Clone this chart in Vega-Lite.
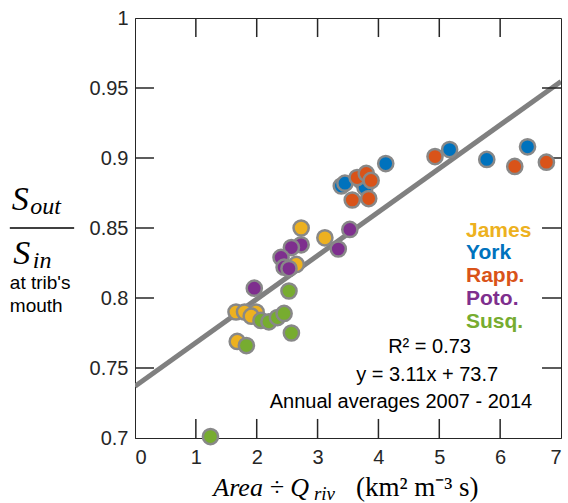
{
  "$schema": "https://vega.github.io/schema/vega-lite/v6.json",
  "width": 426,
  "height": 420,
  "autosize": {"type": "none"},
  "padding": {"left": 135, "top": 18, "right": 7, "bottom": 65},
  "background": "white",
  "config": {
    "view": {"stroke": "#262626", "strokeWidth": 1},
    "axis": {"grid": false, "title": null, "domainColor": "#262626", "tickColor": "#262626", "labelColor": "#262626", "labelFont": "Liberation Sans", "labelFontSize": 20, "domainWidth": 1, "ticks": false}
  },
  "datasets": {
    "fit": [{"x": 0, "y": 0.737}, {"x": 7, "y": 0.9547}],
    "xt": [{"v": 1}, {"v": 2}, {"v": 3}, {"v": 4}, {"v": 5}, {"v": 6}],
    "yt": [{"v": 0.75}, {"v": 0.8}, {"v": 0.85}, {"v": 0.9}, {"v": 0.95}],
    "one": [{}],
    "pts": [
      {"river": "York", "x": 3.39, "y": 0.880},
      {"river": "York", "x": 3.45, "y": 0.882},
      {"river": "York", "x": 3.71, "y": 0.884},
      {"river": "York", "x": 3.78, "y": 0.879},
      {"river": "York", "x": 4.12, "y": 0.896},
      {"river": "York", "x": 5.17, "y": 0.906},
      {"river": "York", "x": 5.78, "y": 0.899},
      {"river": "York", "x": 6.45, "y": 0.908},
      {"river": "James", "x": 2.73, "y": 0.850},
      {"river": "James", "x": 3.12, "y": 0.843},
      {"river": "James", "x": 2.65, "y": 0.824},
      {"river": "James", "x": 1.66, "y": 0.790},
      {"river": "James", "x": 1.80, "y": 0.790},
      {"river": "James", "x": 1.99, "y": 0.790},
      {"river": "James", "x": 1.91, "y": 0.787},
      {"river": "James", "x": 1.68, "y": 0.769},
      {"river": "Rapp.", "x": 4.93, "y": 0.901},
      {"river": "Rapp.", "x": 6.24, "y": 0.894},
      {"river": "Rapp.", "x": 6.76, "y": 0.897},
      {"river": "Rapp.", "x": 3.57, "y": 0.870},
      {"river": "Rapp.", "x": 3.84, "y": 0.871},
      {"river": "Rapp.", "x": 3.65, "y": 0.886},
      {"river": "Rapp.", "x": 3.80, "y": 0.889},
      {"river": "Rapp.", "x": 3.88, "y": 0.884},
      {"river": "Poto.", "x": 1.96, "y": 0.807},
      {"river": "Poto.", "x": 3.53, "y": 0.849},
      {"river": "Poto.", "x": 3.34, "y": 0.835},
      {"river": "Poto.", "x": 2.73, "y": 0.838},
      {"river": "Poto.", "x": 2.57, "y": 0.836},
      {"river": "Poto.", "x": 2.40, "y": 0.829},
      {"river": "Poto.", "x": 2.45, "y": 0.822},
      {"river": "Poto.", "x": 2.53, "y": 0.821},
      {"river": "Susq.", "x": 1.24, "y": 0.701},
      {"river": "Susq.", "x": 1.83, "y": 0.766},
      {"river": "Susq.", "x": 2.07, "y": 0.784},
      {"river": "Susq.", "x": 2.20, "y": 0.783},
      {"river": "Susq.", "x": 2.34, "y": 0.786},
      {"river": "Susq.", "x": 2.45, "y": 0.789},
      {"river": "Susq.", "x": 2.57, "y": 0.775},
      {"river": "Susq.", "x": 2.53, "y": 0.805}
    ]
  },
  "layer": [
    {
      "data": {"name": "fit"},
      "mark": {"type": "line", "color": "#808080", "strokeWidth": 5, "clip": true},
      "encoding": {
        "x": {"field": "x", "type": "quantitative", "scale": {"domain": [0, 7], "nice": false, "zero": false},
              "axis": {"orient": "bottom", "values": [0,1,2,3,4,5,6,7], "format": "d", "labelPadding": 9}},
        "y": {"field": "y", "type": "quantitative", "scale": {"domain": [0.7, 1], "nice": false, "zero": false},
              "axis": {"orient": "left", "values": [0.7,0.75,0.8,0.85,0.9,0.95,1], "format": "~g", "labelPadding": 7}}
      }
    },
    {
      "data": {"name": "xt"},
      "mark": {"type": "rule", "color": "#262626", "strokeWidth": 1.5},
      "encoding": {"x": {"field": "v", "type": "quantitative"}, "y": {"datum": 0.7, "type": "quantitative"}, "y2": {"datum": 0.7136}}
    },
    {
      "data": {"name": "xt"},
      "mark": {"type": "rule", "color": "#262626", "strokeWidth": 1.5},
      "encoding": {"x": {"field": "v", "type": "quantitative"}, "y": {"datum": 1, "type": "quantitative"}, "y2": {"datum": 0.9864}}
    },
    {
      "data": {"name": "yt"},
      "mark": {"type": "rule", "color": "#262626", "strokeWidth": 1.5},
      "encoding": {"y": {"field": "v", "type": "quantitative"}, "x": {"datum": 0, "type": "quantitative"}, "x2": {"datum": 0.312}}
    },
    {
      "data": {"name": "yt"},
      "mark": {"type": "rule", "color": "#262626", "strokeWidth": 1.5},
      "encoding": {"y": {"field": "v", "type": "quantitative"}, "x": {"datum": 7, "type": "quantitative"}, "x2": {"datum": 6.688}}
    },
    {
      "data": {"name": "pts"},
      "mark": {"type": "circle", "size": 230, "opacity": 1, "stroke": "#888888", "strokeWidth": 2.5},
      "encoding": {
        "x": {"field": "x", "type": "quantitative"},
        "y": {"field": "y", "type": "quantitative"},
        "color": {"field": "river", "type": "nominal",
          "scale": {"domain": ["James", "York", "Rapp.", "Poto.", "Susq."], "range": ["#EDB120", "#0072BD", "#D95319", "#7E2F8E", "#77AC30"]},
          "legend": {"orient": "none", "legendX": 310, "legendY": 202, "title": null, "symbolSize": 0, "symbolOpacity": 0, "symbolStrokeWidth": 0, "symbolType": "circle", "labelOffset": 0, "padding": 0, "labelFont": "Liberation Sans", "labelFontSize": 21, "labelFontWeight": "bold", "rowPadding": 0.8,
            "labelColor": {"expr": "scale('color', datum.value)"}}
        }
      }
    },
    {
      "data": {"name": "one"},
      "mark": {"type": "text", "text": "R² = 0.73", "font": "Liberation Sans", "fontSize": 20, "color": "#000000", "align": "center", "baseline": "middle"},
      "encoding": {"x": {"datum": 4.84, "type": "quantitative"}, "y": {"datum": 0.765, "type": "quantitative"}}
    },
    {
      "data": {"name": "one"},
      "mark": {"type": "text", "text": "y = 3.11x + 73.7", "font": "Liberation Sans", "fontSize": 20, "color": "#000000", "align": "center", "baseline": "middle"},
      "encoding": {"x": {"datum": 4.80, "type": "quantitative"}, "y": {"datum": 0.745, "type": "quantitative"}}
    },
    {
      "data": {"name": "one"},
      "mark": {"type": "text", "text": "Annual averages 2007 - 2014", "font": "Liberation Sans", "fontSize": 20, "color": "#000000", "align": "center", "baseline": "middle"},
      "encoding": {"x": {"datum": 4.37, "type": "quantitative"}, "y": {"datum": 0.7257, "type": "quantitative"}}
    },
    {
      "data": {"name": "one"},
      "mark": {"type": "text", "text": "S", "font": "Liberation Serif", "fontStyle": "italic", "fontSize": 34, "color": "#000000", "align": "left", "baseline": "alphabetic"},
      "encoding": {"x": {"datum": -2.025, "type": "quantitative"}, "y": {"datum": 0.8629, "type": "quantitative"}}
    },
    {
      "data": {"name": "one"},
      "mark": {"type": "text", "text": "out", "font": "Liberation Serif", "fontStyle": "italic", "fontSize": 24, "color": "#000000", "align": "left", "baseline": "alphabetic"},
      "encoding": {"x": {"datum": -1.72, "type": "quantitative"}, "y": {"datum": 0.86, "type": "quantitative"}}
    },
    {
      "data": {"name": "one"},
      "mark": {"type": "text", "text": "S", "font": "Liberation Serif", "fontStyle": "italic", "fontSize": 34, "color": "#000000", "align": "left", "baseline": "alphabetic"},
      "encoding": {"x": {"datum": -2.0, "type": "quantitative"}, "y": {"datum": 0.8243, "type": "quantitative"}}
    },
    {
      "data": {"name": "one"},
      "mark": {"type": "text", "text": "in", "font": "Liberation Serif", "fontStyle": "italic", "fontSize": 24, "color": "#000000", "align": "left", "baseline": "alphabetic"},
      "encoding": {"x": {"datum": -1.68, "type": "quantitative"}, "y": {"datum": 0.8214, "type": "quantitative"}}
    },
    {
      "data": {"name": "one"},
      "mark": {"type": "rule", "color": "#000000", "strokeWidth": 1.5},
      "encoding": {"x": {"datum": -2.057, "type": "quantitative"}, "x2": {"datum": -1.0}, "y": {"datum": 0.85, "type": "quantitative"}}
    },
    {
      "data": {"name": "one"},
      "mark": {"type": "text", "text": "at trib's", "font": "Liberation Sans", "fontSize": 19, "color": "#000000", "align": "left", "baseline": "middle"},
      "encoding": {"x": {"datum": -2.057, "type": "quantitative"}, "y": {"datum": 0.8107, "type": "quantitative"}}
    },
    {
      "data": {"name": "one"},
      "mark": {"type": "text", "text": "mouth", "font": "Liberation Sans", "fontSize": 19, "color": "#000000", "align": "left", "baseline": "middle"},
      "encoding": {"x": {"datum": -2.057, "type": "quantitative"}, "y": {"datum": 0.7943, "type": "quantitative"}}
    },
    {
      "data": {"name": "one"},
      "mark": {"type": "text", "text": "Area ÷ Q", "font": "Liberation Serif", "fontStyle": "italic", "fontSize": 26, "color": "#000000", "align": "left", "baseline": "alphabetic"},
      "encoding": {"x": {"datum": 1.287, "type": "quantitative"}, "y": {"datum": 0.65857, "type": "quantitative"}}
    },
    {
      "data": {"name": "one"},
      "mark": {"type": "text", "text": "riv", "font": "Liberation Serif", "fontStyle": "italic", "fontSize": 19, "color": "#000000", "align": "left", "baseline": "alphabetic"},
      "encoding": {"x": {"datum": 2.94, "type": "quantitative"}, "y": {"datum": 0.6557, "type": "quantitative"}}
    },
    {
      "data": {"name": "one"},
      "mark": {"type": "text", "text": "(km²  m⁻³   s)", "font": "Liberation Serif", "fontSize": 27, "color": "#000000", "align": "left", "baseline": "alphabetic"},
      "encoding": {"x": {"datum": 3.63, "type": "quantitative"}, "y": {"datum": 0.65857, "type": "quantitative"}}
    }
  ]
}
